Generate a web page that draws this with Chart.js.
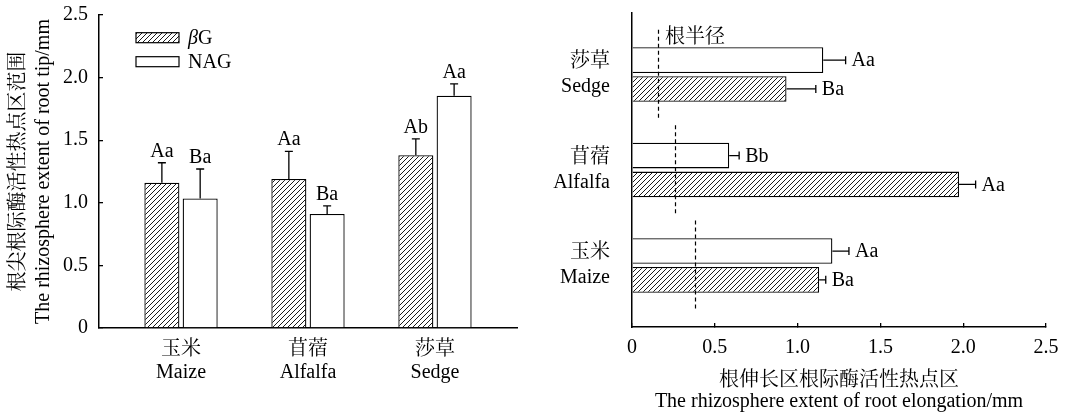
<!DOCTYPE html>
<html><head><meta charset="utf-8">
<script src="https://cdn.jsdelivr.net/npm/chart.js@4.4.1/dist/chart.umd.min.js"></script>
<style>
html,body{margin:0;padding:0;background:#fff;}
#wrap{position:relative;width:1070px;height:413px;overflow:hidden;}
#c1box{position:absolute;left:0;top:0;width:540px;height:413px;}
#c2box{position:absolute;left:535px;top:0;width:535px;height:413px;}
</style></head><body>
<div id="wrap"><div id="c1box"><canvas id="c1"></canvas></div><div id="c2box"><canvas id="c2"></canvas></div></div>
<script>
// ---- data ----
const crops = ['玉米', '苜蓿', '莎草'];
const cropsEn = ['Maize', 'Alfalfa', 'Sedge'];
const seriesNames = ['βG', 'NAG'];

// left panel: root tip hotspot extent (mm)
const tipBG = [1.16, 1.19, 1.38];
const tipBGErr = [0.16, 0.22, 0.13];
const tipNAG = [1.035, 0.91, 1.855];
const tipNAGErr = [0.235, 0.065, 0.095];
const tipBGLetters = ['Aa', 'Aa', 'Ab'];
const tipNAGLetters = ['Ba', 'Ba', 'Aa'];
const yTicksLeft = [0, 0.5, 1.0, 1.5, 2.0, 2.5];

// right panel: root elongation hotspot extent (mm)
const elBG = [1.13, 1.975, 0.933];
const elBGErr = [0.04, 0.10, 0.177];
const elNAG = [1.21, 0.587, 1.155];
const elNAGErr = [0.10, 0.06, 0.135];
const elBGLetters = ['Ba', 'Aa', 'Ba'];
const elNAGLetters = ['Aa', 'Bb', 'Aa'];
const rootRadius = [0.383, 0.258, 0.157];
const xTicksRight = [0, 0.5, 1.0, 1.5, 2.0, 2.5];
const radiusLabel = '根半径';

const leftYTitle = ['根尖根际酶活性热点区范围', 'The rhizosphere extent of root tip/mm'];
const rightXTitle = ['根伸长区根际酶活性热点区', 'The rhizosphere extent of root elongation/mm'];

// ---- styles ----
const FONT = "'Liberation Serif', 'Noto Serif CJK SC', 'Noto Sans CJK SC', serif";
const BLACK = '#000';

function makeHatch(ctx) {
  const s = 5;
  const c = document.createElement('canvas');
  c.width = s; c.height = s;
  const g = c.getContext('2d');
  g.fillStyle = '#fff'; g.fillRect(0, 0, s, s);
  g.strokeStyle = '#000'; g.lineWidth = 0.9;
  g.beginPath();
  g.moveTo(0, s); g.lineTo(s, 0);
  g.moveTo(-1, 1); g.lineTo(1, -1);
  g.moveTo(s - 1, s + 1); g.lineTo(s + 1, s - 1);
  g.stroke();
  return ctx.createPattern(c, 'repeat');
}

function noPad(s) { s.paddingTop = 0; s.paddingBottom = 0; s.paddingLeft = 0; s.paddingRight = 0; }
const fmt = v => (v === 0 ? '0' : v.toFixed(1));

const ctx1 = document.getElementById('c1').getContext('2d');
const ctx2 = document.getElementById('c2').getContext('2d');
const hatch1 = makeHatch(ctx1);
const hatch2 = makeHatch(ctx2);

function drawLegendText(ctx, text, x, y) {
  let cx = x;
  const first = text[0];
  if (/[\u03b1-\u03c9]/.test(first)) {
    ctx.font = 'italic 20px ' + FONT;
    ctx.fillText(first, cx, y);
    cx += ctx.measureText(first).width;
    text = text.slice(1);
  }
  ctx.font = '20px ' + FONT;
  ctx.fillText(text, cx, y);
}

const tipPlugin = {
  id: 'tipMarks',
  afterDatasetsDraw(chart) {
    const ctx = chart.ctx, ys = chart.scales.y;
    const vals = [tipBG, tipNAG], errs = [tipBGErr, tipNAGErr], letters = [tipBGLetters, tipNAGLetters];
    ctx.save();
    ctx.strokeStyle = BLACK; ctx.fillStyle = BLACK; ctx.lineWidth = 1.3;
    ctx.font = '20px ' + FONT; ctx.textAlign = 'center'; ctx.textBaseline = 'alphabetic';
    for (let d = 0; d < 2; d++) {
      chart.getDatasetMeta(d).data.forEach((bar, i) => {
        const top = ys.getPixelForValue(vals[d][i] + errs[d][i]);
        ctx.beginPath();
        ctx.moveTo(bar.x, bar.y); ctx.lineTo(bar.x, top);
        ctx.moveTo(bar.x - 4, top); ctx.lineTo(bar.x + 4, top);
        ctx.stroke();
        ctx.fillText(letters[d][i], bar.x, top - 6);
      });
    }
    // legend
    const a = chart.chartArea;
    const bx = a.left + 37, bw = 43, bh = 10;
    const rows = [a.top + 17.7, a.top + 41.7];
    ctx.lineWidth = 1.2;
    ctx.textAlign = 'left'; ctx.textBaseline = 'middle';
    chart.data.datasets.forEach((ds, k) => {
      const by = rows[k];
      ctx.fillStyle = ds.backgroundColor;
      ctx.fillRect(bx, by, bw, bh);
      ctx.strokeRect(bx, by, bw, bh);
      ctx.fillStyle = BLACK;
      drawLegendText(ctx, ds.label, bx + 52, by + bh / 2 + 1);
    });
    ctx.restore();
  }
};

const elPlugin = {
  id: 'elMarks',
  afterDatasetsDraw(chart) {
    const ctx = chart.ctx, xs = chart.scales.x, ys = chart.scales.y;
    const vals = [elNAG, elBG], errs = [elNAGErr, elBGErr], letters = [elNAGLetters, elBGLetters];
    ctx.save();
    ctx.strokeStyle = BLACK; ctx.fillStyle = BLACK; ctx.lineWidth = 1.3;
    ctx.font = '20px ' + FONT; ctx.textAlign = 'left'; ctx.textBaseline = 'middle';
    for (let d = 0; d < 2; d++) {
      chart.getDatasetMeta(d).data.forEach((bar, i) => {
        const end = xs.getPixelForValue(vals[d][i] + errs[d][i]);
        ctx.beginPath();
        ctx.moveTo(bar.x, bar.y); ctx.lineTo(end, bar.y);
        ctx.moveTo(end, bar.y - 4); ctx.lineTo(end, bar.y + 4);
        ctx.stroke();
        ctx.fillText(letters[d][i], end + 6, bar.y + 1);
      });
    }
    // root radius dashed markers
    ctx.lineWidth = 1.2;
    ctx.setLineDash([4, 3]);
    rootRadius.forEach((r, i) => {
      const x = Math.round(xs.getPixelForValue(r)) + 0.5;
      ctx.beginPath();
      ctx.moveTo(x, ys.getPixelForValue(i + 0.47));
      ctx.lineTo(x, ys.getPixelForValue(i - 0.47));
      ctx.stroke();
    });
    ctx.setLineDash([]);
    const lx = xs.getPixelForValue(rootRadius[2]) + 7;
    ctx.fillText(radiusLabel, lx, ys.getPixelForValue(2 + 0.39));
    ctx.restore();
  }
};

Chart.defaults.font.family = FONT;
Chart.defaults.color = BLACK;

new Chart(ctx1, {
  type: 'bar',
  data: {
    datasets: [
      { label: seriesNames[0], data: tipBG.map((v, i) => ({ x: i, y: v })), backgroundColor: hatch1, borderColor: BLACK, borderWidth: 1.3 },
      { label: seriesNames[1], data: tipNAG.map((v, i) => ({ x: i, y: v })), backgroundColor: '#fff', borderColor: BLACK, borderWidth: 1.3 }
    ]
  },
  options: {
    responsive: true, maintainAspectRatio: false, animation: false,
    datasets: { bar: { categoryPercentage: 0.603, barPercentage: 0.915 } },
    layout: { padding: { top: 15, right: 23, left: 0, bottom: 0 } },
    plugins: { legend: { display: false }, tooltip: { enabled: false } },
    scales: {
      x: {
        type: 'linear', min: -0.646, max: 2.646, offset: false,
        afterBuildTicks(s) { s.ticks = crops.map((c, i) => ({ value: i })); },
        afterFit(s) { s.height = 85; noPad(s); },
        grid: { display: false, drawTicks: false, tickLength: 0, offset: false },
        border: { display: true, color: BLACK, width: 1.6 },
        ticks: { autoSkip: false, maxRotation: 0, padding: 9.5, color: BLACK,
          font: { family: FONT, size: 20, lineHeight: 1.175 },
          callback: v => [crops[Math.round(v)], cropsEn[Math.round(v)]] }
      },
      y: {
        type: 'linear', min: 0, max: 2.5,
        afterBuildTicks(s) { s.ticks = yTicksLeft.map(v => ({ value: v })); },
        afterFit(s) { s.width = 99; noPad(s); },
        grid: { drawOnChartArea: false, drawTicks: true, tickLength: -4, color: BLACK, lineWidth: 1.3 },
        border: { display: true, color: BLACK, width: 1.5 },
        ticks: { autoSkip: false, padding: 15, color: BLACK, font: { family: FONT, size: 20, lineHeight: 1.2 }, callback: v => fmt(v) },
        title: { display: true, text: leftYTitle, color: BLACK, font: { family: FONT, size: 20, lineHeight: 1.25 }, padding: { top: 6.5, bottom: 0 } }
      }
    }
  },
  plugins: [tipPlugin]
});

new Chart(ctx2, {
  type: 'bar',
  data: {
    datasets: [
      { label: seriesNames[1], data: elNAG.map((v, i) => ({ x: v, y: i })), backgroundColor: '#fff', borderColor: BLACK, borderWidth: 1.3 },
      { label: seriesNames[0], data: elBG.map((v, i) => ({ x: v, y: i })), backgroundColor: hatch2, borderColor: BLACK, borderWidth: 1.3 }
    ]
  },
  options: {
    indexAxis: 'y',
    responsive: true, maintainAspectRatio: false, animation: false,
    datasets: { bar: { categoryPercentage: 0.604, barPercentage: 0.89 } },
    layout: { padding: { top: 13, right: 24, left: 0, bottom: 0 } },
    plugins: { legend: { display: false }, tooltip: { enabled: false } },
    scales: {
      x: {
        type: 'linear', min: 0, max: 2.5,
        afterBuildTicks(s) { s.ticks = xTicksRight.map(v => ({ value: v })); },
        afterFit(s) { s.height = 86; noPad(s); },
        grid: { drawOnChartArea: false, drawTicks: true, tickLength: -4, color: BLACK, lineWidth: 1.3 },
        border: { display: true, color: BLACK, width: 1.5 },
        ticks: { autoSkip: false, maxRotation: 0, padding: 12.5, color: BLACK, font: { family: FONT, size: 20, lineHeight: 1.2 }, callback: v => fmt(v) },
        title: { display: true, text: rightXTitle, color: BLACK, font: { family: FONT, size: 20, lineHeight: 1.05 }, padding: { top: 0, bottom: 1 } }
      },
      y: {
        type: 'linear', min: -0.645, max: 2.645, offset: false,
        afterBuildTicks(s) { s.ticks = crops.map((c, i) => ({ value: i })); },
        afterFit(s) { s.width = 97; noPad(s); },
        grid: { display: false, drawTicks: false, tickLength: 0, offset: false },
        border: { display: true, color: BLACK, width: 1.5 },
        ticks: { autoSkip: false, padding: 22, color: BLACK, font: { family: FONT, size: 20, lineHeight: 1.25 },
          callback: v => [crops[Math.round(v)], cropsEn[Math.round(v)]] }
      }
    }
  },
  plugins: [elPlugin]
});
</script>
</body></html>
